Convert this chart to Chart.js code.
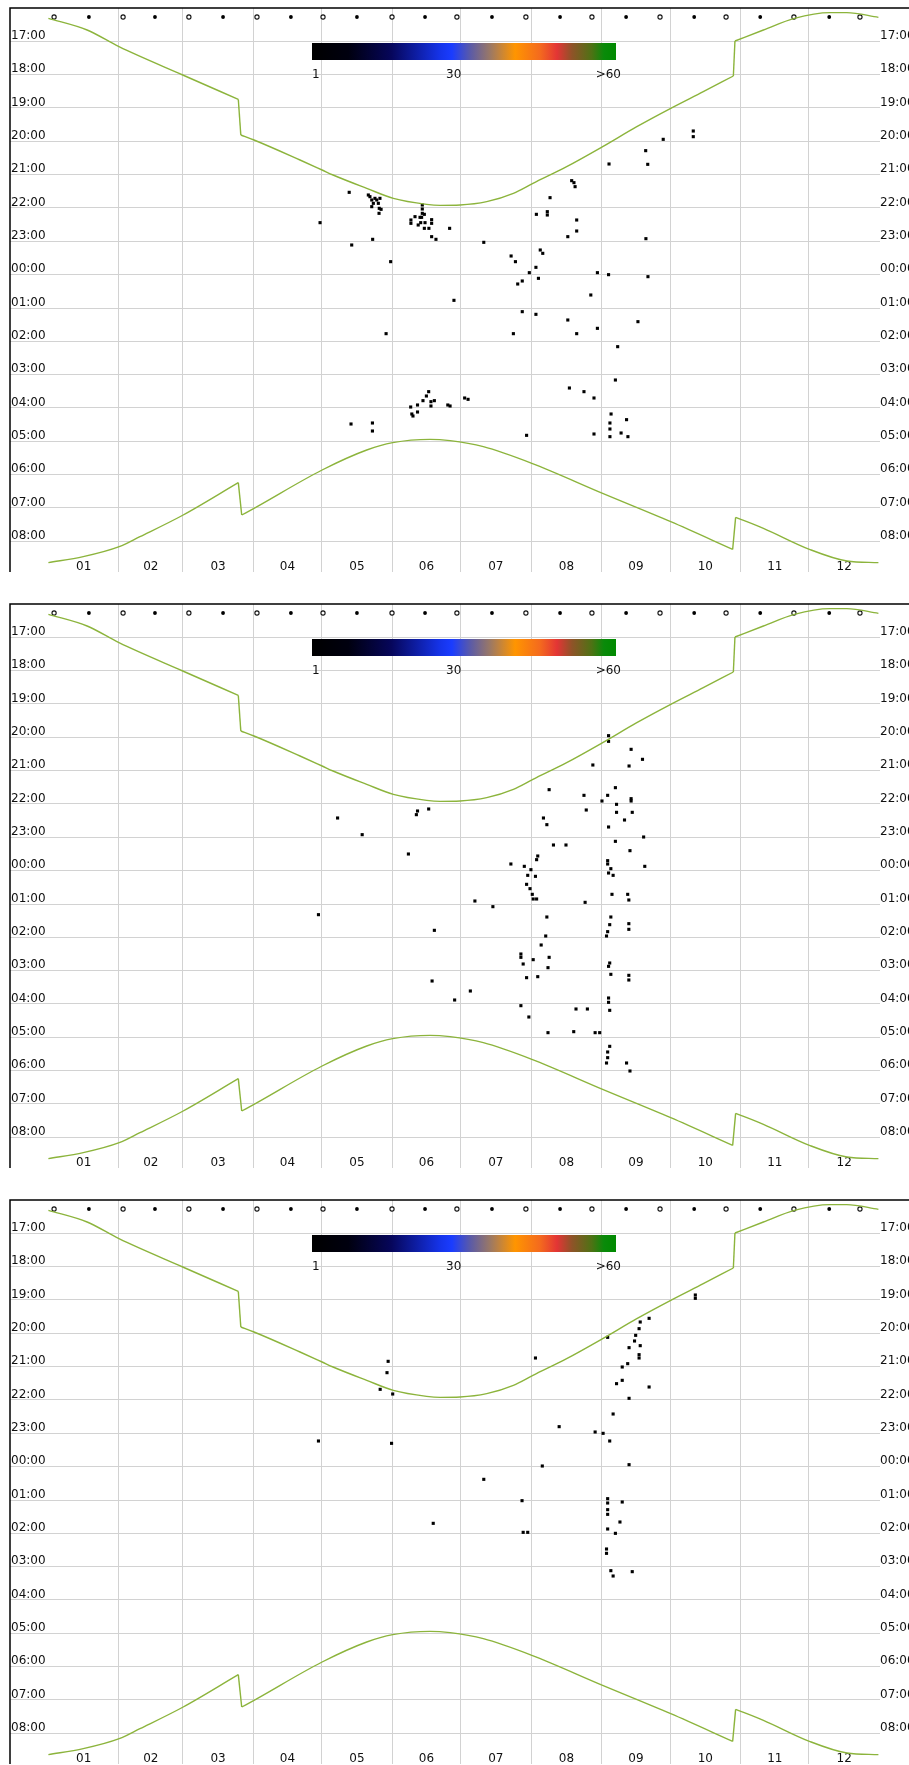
<!DOCTYPE html>
<html>
<head>
<meta charset="utf-8">
<script src="https://cdn.jsdelivr.net/npm/chart.js@4.4.0/dist/chart.umd.min.js"></script>
<style>
  body { margin: 0; background: #fff; }
  .panel { position: absolute; left: 0; width: 909px; height: 596px; }
</style>
</head>
<body>
<div class="panel" style="top:0"><canvas id="c1" width="909" height="596"></canvas></div>
<div class="panel" style="top:596px"><canvas id="c2" width="909" height="596"></canvas></div>
<div class="panel" style="top:1192px"><canvas id="c3" width="909" height="596"></canvas></div>
<script>
// x = day of year, y = clock hour (after midnight counted as 24+)
const monthStarts = [31, 59, 90, 120, 151, 181, 212, 243, 273, 304, 334];
const monthMids = [15.5, 45, 74.5, 105, 135.5, 166, 196.5, 227.5, 258, 288.5, 319, 349.5];
const monthLabels = ['01', '02', '03', '04', '05', '06', '07', '08', '09', '10', '11', '12'];
const hourTicks = [17, 18, 19, 20, 21, 22, 23, 24, 25, 26, 27, 28, 29, 30, 31, 32];

// moon phases along the top row
const fullMoons = [2.5, 32.8, 61.7, 91.6, 120.6, 150.9, 179.4, 209.7, 238.7, 268.6, 297.6, 327.4, 356.4];
const newMoons = [17.8, 46.8, 76.7, 106.5, 135.5, 165.4, 194.8, 224.7, 253.7, 283.6, 312.6, 342.9];
const moonRow = 16.27;

// sunset / sunrise curves (with the summer time jumps)
const sunsetDay = [0, 17, 31, 59, 83.4, 84.5, 90.3, 110.5, 120.2, 125, 139.8, 151.5, 166.1, 172, 180.8, 192.5, 204.2, 212.8, 227.6, 243.4, 258.4, 273.3, 287.6, 300.8, 301.5, 314, 327.6, 343.3, 350.6, 364.5];
const sunsetTime = [16.31, 16.66, 17.16, 18.01, 18.74, 19.81, 19.96, 20.56, 20.86, 21.01, 21.41, 21.71, 21.89, 21.92, 21.91, 21.81, 21.56, 21.26, 20.76, 20.16, 19.56, 19.01, 18.51, 18.04, 16.99, 16.66, 16.31, 16.14, 16.14, 16.28];
const sunriseDay = [0, 15.3, 31.1, 40.2, 59.2, 83.4, 84.9, 90.3, 120.2, 139.8, 151.2, 167.6, 176.4, 191, 212.3, 243.4, 273.3, 300.5, 301.8, 314, 334.2, 350.7, 364.5];
const sunriseTime = [32.64, 32.46, 32.16, 31.86, 31.21, 30.24, 31.21, 31.01, 29.86, 29.26, 29.04, 28.94, 28.98, 29.16, 29.66, 30.56, 31.41, 32.24, 31.28, 31.61, 32.24, 32.59, 32.64];

const scaleLabels = ['1', '30', '>60'];

// detections per panel: [day, hour]
const panel1Dots = [
  [283.2,19.69],[283.2,19.86],[270.0,19.94],[262.3,20.28],[263.2,20.69],[246.2,20.68],
  [229.8,21.18],[230.8,21.24],[231.3,21.36],[220.3,21.69],[132.1,21.53],
  [140.5,21.61],[141.2,21.66],[142.0,21.76],[142.7,21.86],[142.0,21.96],[143.4,21.71],[144.2,21.76],
  [144.9,21.86],[145.6,21.71],[145.3,22.01],[145.2,22.16],[146.1,22.04],
  [119.3,22.44],[142.4,22.94],[133.2,23.11],[150.3,23.61],[148.3,25.77],
  [164.2,21.91],[164.2,22.03],[164.2,22.16],[159.2,22.36],[159.2,22.46],[161.0,22.26],[163.2,22.28],
  [163.9,22.28],[165.1,22.19],[162.4,22.51],[163.5,22.44],[165.4,22.44],[168.3,22.35],[168.3,22.46],
  [165.1,22.61],[167.1,22.61],[168.3,22.86],[170.2,22.94],[176.2,22.61],
  [191.2,23.03],[178.1,24.77],[203.2,23.44],[205.1,23.61],[214.3,22.19],[219.1,22.11],[219.1,22.21],
  [216.0,23.26],[217.1,23.36],[214.1,23.78],[211.2,23.94],[215.2,24.11],[208.1,24.19],[206.1,24.28],
  [208.1,25.11],[214.1,25.19],[204.2,25.77],
  [232.0,22.36],[232.0,22.69],[228.1,22.86],[241.1,23.94],[238.2,24.61],[228.1,25.36],[232.0,25.77],
  [241.1,25.61],[246.0,24.0],
  [262.4,22.92],[263.3,24.06],[258.9,25.41],[250.0,26.16],[249.0,27.16],
  [228.8,27.40],[235.2,27.51],[239.6,27.70],[247.1,28.18],[246.6,28.45],[246.6,28.63],[246.6,28.86],
  [253.9,28.35],[239.6,28.78],[251.5,28.75],[254.5,28.86],[210.0,28.82],
  [132.9,28.48],[142.3,28.45],[142.3,28.69],
  [159.1,27.97],[159.6,28.18],[160.1,28.24],[162.1,27.91],[164.5,27.78],[166.0,27.64],[167.0,27.51],
  [168.0,27.81],[169.5,27.78],[175.4,27.91],[176.4,27.94],[182.8,27.70],[184.3,27.74],[162.1,28.12],[168.0,27.94]
];
const panel2Dots = [
  [246.0,19.95],[246.0,20.12],[255.9,20.36],[260.9,20.66],[255.0,20.86],[239.1,20.83],[219.9,21.57],
  [235.2,21.74],[255.9,21.84],[255.9,21.91],[243.1,21.91],[249.0,21.51],[249.5,22.01],[236.2,22.18],
  [249.5,22.25],[256.4,22.25],[245.6,21.74],[253.0,22.48],[217.4,22.42],[218.9,22.62],
  [127.0,22.42],[137.8,22.92],[161.6,22.32],[162.1,22.21],[167.0,22.15],[158.1,23.50],
  [221.8,23.23],[227.3,23.23],[214.9,23.56],[214.4,23.67],[211.9,23.97],[261.4,22.99],[246.0,22.69],
  [249.0,23.12],[255.4,23.40],[261.9,23.87],
  [245.6,23.70],[245.6,23.80],[247.0,23.94],[246.0,24.07],[248.0,24.14],[203.1,23.80],[209.0,23.87],
  [210.5,24.14],[213.9,24.17],[212.5,24.71],[212.9,24.85],[211.5,24.54],[210.0,24.41],[214.4,24.85],
  [235.7,24.95],[247.5,24.71],[254.4,24.71],[254.9,24.88],[187.3,24.91],[195.2,25.08],
  [118.6,25.32],[169.5,25.79],[218.9,25.39],[218.4,25.96],[216.4,26.23],[245.6,25.83],[245.1,25.96],
  [246.5,25.62],[254.9,25.59],[254.9,25.76],[247.0,25.39],
  [207.5,26.50],[207.5,26.60],[208.5,26.80],[212.9,26.67],[219.9,26.60],[219.4,26.91],[210.0,27.21],
  [214.9,27.18],[246.5,26.77],[246.0,26.87],[247.0,27.11],[254.9,27.14],[254.9,27.28],
  [168.5,27.31],[185.3,27.61],[178.4,27.88],[207.5,28.05],[211.0,28.39],[231.7,28.15],[236.7,28.15],
  [246.0,27.82],[246.0,27.95],[246.5,28.19],
  [219.4,28.86],[230.7,28.83],[242.1,28.86],[245.6,29.44],[245.6,29.61],[245.1,29.77],[246.5,29.27],
  [253.9,29.77],[255.4,30.01],[240.1,28.86]
];
const panel3Dots = [
  [284.1,18.85],[284.1,18.95],[263.8,19.55],[245.6,20.12],[259.9,19.66],[259.4,19.86],[257.9,20.06],
  [257.4,20.23],[259.9,20.37],[255.0,20.43],[259.4,20.64],[259.4,20.74],[254.4,20.91],[252.0,21.01],
  [213.9,20.74],
  [149.2,20.84],[148.7,21.18],[145.7,21.68],[151.2,21.82],[249.5,21.51],[252.0,21.41],[263.8,21.61],
  [255.0,21.95],[248.0,22.42],[224.3,22.80],[240.1,22.96],[243.6,23.00],[246.5,23.23],[118.6,23.23],
  [150.7,23.30],
  [216.9,23.98],[255.0,23.94],[191.2,24.38],[208.0,25.02],[245.6,24.96],[245.6,25.09],[252.0,25.06],
  [245.6,25.43],[251.0,25.66],[245.6,25.87],[249.0,26.00],[208.5,25.97],[210.5,25.97],[169.0,25.70],
  [245.1,26.47],[245.1,26.60],[247.0,27.12],[248.0,27.28],[256.4,27.15],[245.6,25.29]
];

const GRID = '#d2d2d2';
const CURVE = '#8cb43c';
const FONT = { family: 'DejaVu Sans', size: 12 };

function hourLabel(v) {
  const h = Math.round(v) % 24;
  return (h < 10 ? '0' : '') + h + ':00';
}

// split a curve into smooth pieces and straight jump pieces
function curvePieces(days, times) {
  const pieces = [];
  let cur = [{ x: days[0], y: times[0] }];
  for (let i = 1; i < days.length; i++) {
    const p = { x: days[i], y: times[i] };
    const slope = Math.abs(times[i] - times[i - 1]) / (days[i] - days[i - 1]);
    if (slope > 0.3) {
      pieces.push({ pts: cur, jump: false });
      pieces.push({ pts: [cur[cur.length - 1], p], jump: true });
      cur = [p];
    } else {
      cur.push(p);
    }
  }
  pieces.push({ pts: cur, jump: false });
  return pieces;
}

function curveDatasets(days, times) {
  return curvePieces(days, times).map(pc => ({
    type: 'line',
    data: pc.pts,
    borderColor: CURVE,
    borderWidth: 1.4,
    pointRadius: 0,
    fill: false,
    tension: 0,
    cubicInterpolationMode: pc.jump ? 'default' : 'monotone',
    yAxisID: 'y'
  }));
}

const framePlugin = {
  id: 'frame',
  afterDraw(chart) {
    const { ctx, chartArea: a, width } = chart;
    ctx.save();
    // frame on left and top
    ctx.strokeStyle = '#000';
    ctx.lineWidth = 1.5;
    ctx.beginPath();
    ctx.moveTo(a.left, a.bottom);
    ctx.lineTo(a.left, a.top);
    ctx.lineTo(width, a.top);
    ctx.stroke();

    // colour scale legend
    const x0 = 312, x1 = 616, y0 = 43, y1 = 60;
    const g = ctx.createLinearGradient(x0, 0, x1, 0);
    [[0, '#000000'], [0.12, '#00000f'], [0.26, '#06065a'], [0.42, '#1533e8'], [0.46, '#1a3cff'],
     [0.52, '#5a5aa8'], [0.585, '#9a7866'], [0.668, '#ff9500'], [0.75, '#f46a1e'], [0.806, '#e33535'],
     [0.855, '#8f5328'], [0.92, '#4e7214'], [0.96, '#0a8a0a'], [1, '#008a00']]
      .forEach(([p, c]) => g.addColorStop(p, c));
    ctx.fillStyle = g;
    ctx.fillRect(x0, y0, x1 - x0, y1 - y0);

    ctx.fillStyle = '#111';
    ctx.font = '12px "DejaVu Sans"';
    ctx.textBaseline = 'middle';
    ctx.textAlign = 'left';
    ctx.fillText(scaleLabels[0], 312, 75);
    ctx.fillText(scaleLabels[1], 446, 75);
    ctx.textAlign = 'right';
    ctx.fillText(scaleLabels[2], 621, 75);
    ctx.restore();
  }
};

function zeroPad(axis) {
  axis.paddingLeft = 0; axis.paddingRight = 0;
  axis.paddingTop = 0; axis.paddingBottom = 0;
}

function makePanel(id, dots) {
  const xTicks = monthStarts.concat(monthMids).sort((a, b) => a - b);
  new Chart(document.getElementById(id), {
    type: 'scatter',
    data: {
      datasets: [
        ...curveDatasets(sunsetDay, sunsetTime),
        ...curveDatasets(sunriseDay, sunriseTime),
        {
          data: dots.map(d => ({ x: d[0], y: d[1] })),
          pointStyle: 'rect',
          pointRadius: 2.2,
          pointBorderWidth: 0,
          backgroundColor: '#000',
          yAxisID: 'y'
        },
        {
          data: fullMoons.map(d => ({ x: d, y: moonRow })),
          pointStyle: 'circle',
          pointRadius: 2.1,
          pointBorderWidth: 1.1,
          borderColor: '#111',
          backgroundColor: '#fff',
          yAxisID: 'y'
        },
        {
          data: newMoons.map(d => ({ x: d, y: moonRow })),
          pointStyle: 'circle',
          pointRadius: 1.9,
          pointBorderWidth: 0,
          backgroundColor: '#000',
          yAxisID: 'y'
        }
      ]
    },
    options: {
      responsive: false,
      animation: false,
      events: [],
      layout: { padding: { top: 8, left: 10, right: 0, bottom: 0 } },
      plugins: { legend: { display: false }, tooltip: { enabled: false } },
      scales: {
        x: {
          type: 'linear',
          position: 'bottom',
          min: -16.86,
          max: 365.2,
          afterBuildTicks: axis => { axis.ticks = xTicks.map(v => ({ value: v })); },
          afterFit: axis => { axis.height = 24; zeroPad(axis); },
          border: { display: false },
          grid: {
            drawTicks: false,
            lineWidth: 1,
            color: ctx => (ctx.tick && monthStarts.includes(ctx.tick.value)) ? GRID : 'rgba(0,0,0,0)'
          },
          ticks: {
            autoSkip: false,
            maxRotation: 0,
            mirror: true,       // labels sit inside the plot, just above its bottom edge
            padding: -2,
            color: '#111',
            font: FONT,
            callback: v => {
              const i = monthMids.indexOf(v);
              return i >= 0 ? monthLabels[i] : '';
            }
          }
        },
        y: {
          type: 'linear',
          position: 'left',
          reverse: true,
          min: 16,
          max: 32.92,
          afterBuildTicks: axis => { axis.ticks = hourTicks.map(v => ({ value: v })); },
          afterFit: axis => { axis.width = 0; zeroPad(axis); },
          border: { display: false },
          grid: { drawTicks: false, color: GRID, lineWidth: 1 },
          ticks: {
            mirror: true,
            padding: 1,
            labelOffset: -5.5,
            color: '#111',
            font: FONT,
            callback: v => hourLabel(v)
          }
        },
        yR: {
          type: 'linear',
          position: 'right',
          reverse: true,
          min: 16,
          max: 32.92,
          afterBuildTicks: axis => { axis.ticks = hourTicks.map(v => ({ value: v })); },
          afterFit: axis => { axis.width = 29; zeroPad(axis); },
          border: { display: false },
          grid: { display: false, drawTicks: false },
          ticks: {
            padding: 0,
            labelOffset: -5.5,
            color: '#111',
            font: FONT,
            callback: v => hourLabel(v)
          }
        }
      }
    },
    plugins: [framePlugin]
  });
}

makePanel('c1', panel1Dots);
makePanel('c2', panel2Dots);
makePanel('c3', panel3Dots);
</script>
</body>
</html>
